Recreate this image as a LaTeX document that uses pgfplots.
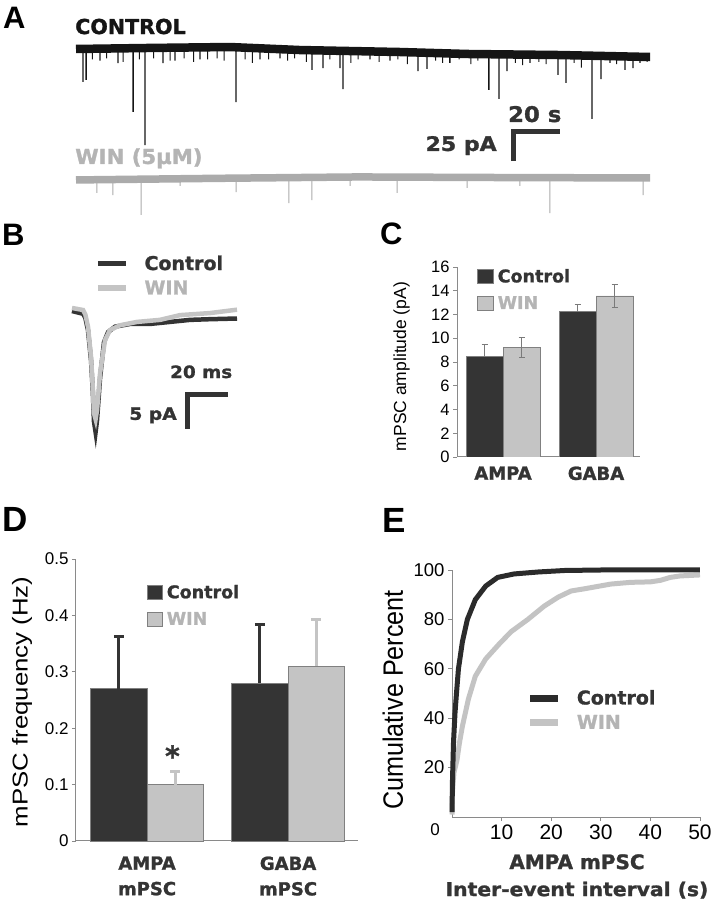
\documentclass[border=0pt]{standalone}
\usepackage{fontspec}
\setmainfont{Liberation Sans}
\newfontfamily\dv{DejaVu Sans}[BoldFeatures={FakeBold=1.3}]
\usepackage{graphicx}
\usepackage{pgfplots}
\pgfplotsset{compat=1.18}
\definecolor{dk}{HTML}{343434}
\definecolor{lt}{HTML}{C4C4C4}
\definecolor{ctr}{HTML}{151515}
\definecolor{wtr}{HTML}{ABABAB}
\definecolor{wtxt}{HTML}{B4B4B4}
\definecolor{axg}{HTML}{8A8A8A}
\definecolor{sb}{HTML}{333333}
\definecolor{barout}{HTML}{808080}
\definecolor{errg}{HTML}{7A7A7A}
\definecolor{ccur}{HTML}{2B2B2B}
\definecolor{wcur}{HTML}{C3C3C3}
\begin{document}
\begin{tikzpicture}
\useasboundingbox (0,0) rectangle (716pt,900pt);

% ---------------- Panel A ----------------
\begin{axis}[at={(76pt,677pt)}, anchor=south west, scale only axis,
  width=574.1pt, height=185.6pt, xmin=0, xmax=244.3, ymin=-150, ymax=10,
  axis lines=none, clip=false]
\addplot[ctr, line width=8.5pt] coordinates {(0,0)(31.5,0.9)(65.5,1.7)(95.3,-0.9)(137.9,-2.6)(166.4,-4.3)(205.9,-5.2)(244.3,-6.9)};
\addplot[ctr, line width=1.3pt] coordinates {
(3.0,0.1)(3.0,-28.4)(3.0,0.1)
(4.3,0.1)(4.3,-26.7)(4.3,0.1)
(10.2,0.3)(10.2,-10)(10.2,0.3)
(17.9,0.5)(17.9,-12.1)(17.9,0.5)
(24.3,0.7)(24.3,-54.3)(24.3,0.7)
(29.4,0.8)(29.4,-82.8)(29.4,0.8)
(37.0,1.0)(37.0,-12.1)(37.0,1.0)
(42.1,1.1)(42.1,-10)(42.1,1.1)
(52.8,1.4)(52.8,-9)(52.8,1.4)
(68.1,1.5)(68.1,-45.7)(68.1,1.5)
(78.3,0.6)(78.3,-9)(78.3,0.6)
(86.8,-0.1)(86.8,-8)(86.8,-0.1)
(100.4,-1.1)(100.4,-18.1)(100.4,-1.1)
(105.1,-1.3)(105.1,-16.4)(105.1,-1.3)
(112.3,-1.6)(112.3,-16.4)(112.3,-1.6)
(113.6,-1.7)(113.6,-34.5)(113.6,-1.7)
(125.1,-2.1)(125.1,-9)(125.1,-2.1)
(133.6,-2.4)(133.6,-10)(133.6,-2.4)
(145.5,-3.1)(145.5,-19)(145.5,-3.1)
(149.4,-3.3)(149.4,-17.2)(149.4,-3.3)
(159.1,-3.9)(159.1,-12)(159.1,-3.9)
(175.7,-4.5)(175.7,-35.3)(175.7,-4.5)
(180.0,-4.6)(180.0,-43.1)(180.0,-4.6)
(183.4,-4.7)(183.4,-19)(183.4,-4.7)
(193.2,-4.9)(193.2,-12)(193.2,-4.9)
(205.1,-5.2)(205.1,-22.4)(205.1,-5.2)
(208.5,-5.3)(208.5,-29.3)(208.5,-5.3)
(219.6,-5.8)(219.6,-60.3)(219.6,-5.8)
(223.4,-6.0)(223.4,-25.9)(223.4,-6.0)
(227.2,-6.2)(227.2,-12)(227.2,-6.2)
(233.6,-6.4)(233.6,-18.1)(233.6,-6.4)
(237.0,-6.6)(237.0,-16.4)(237.0,-6.6)
(240.0,-6.7)(240.0,-12)(240.0,-6.7)};
\addplot[ctr, line width=1pt] coordinates {
(7,0.2)(7,-9)(7,0.2)
(13,0.4)(13,-8)(13,0.4)
(20,0.6)(20,-11)(20,0.6)
(27,0.8)(27,-9)(27,0.8)
(33,0.9)(33,-8)(33,0.9)
(40,1.1)(40,-10)(40,1.1)
(46,1.2)(46,-8)(46,1.2)
(50,1.3)(50,-11)(50,1.3)
(56,1.5)(56,-9)(56,1.5)
(60,1.6)(60,-8)(60,1.6)
(63,1.6)(63,-10)(63,1.6)
(72,1.2)(72,-9)(72,1.2)
(75,0.9)(75,-12)(75,0.9)
(82,0.3)(82,-9)(82,0.3)
(90,-0.4)(90,-10)(90,-0.4)
(93,-0.7)(93,-8)(93,-0.7)
(98,-1.0)(98,-11)(98,-1.0)
(108,-1.4)(108,-9)(108,-1.4)
(117,-1.8)(117,-12)(117,-1.8)
(120,-1.9)(120,-9)(120,-1.9)
(129,-2.2)(129,-11)(129,-2.2)
(137,-2.6)(137,-9)(137,-2.6)
(141,-2.8)(141,-13)(141,-2.8)
(153,-3.5)(153,-10)(153,-3.5)
(156,-3.7)(156,-12)(156,-3.7)
(163,-4.1)(163,-9)(163,-4.1)
(168,-4.3)(168,-13)(168,-4.3)
(171,-4.4)(171,-10)(171,-4.4)
(187,-4.8)(187,-12)(187,-4.8)
(190,-4.8)(190,-14)(190,-4.8)
(197,-5.0)(197,-11)(197,-5.0)
(200,-5.1)(200,-13)(200,-5.1)
(212,-5.5)(212,-12)(212,-5.5)
(215,-5.6)(215,-16)(215,-5.6)
(230,-6.3)(230,-13)(230,-6.3)
(243,-6.8)(243,-11)(243,-6.8)};
\addplot[wtr, line width=7.5pt] coordinates {(0,-112.9)(60,-111.5)(120,-110.3)(180,-110.8)(244.3,-111.2)};
\addplot[wtr, line width=1pt] coordinates {
(8.9,-112.5)(8.9,-124.1)(8.9,-112.5)
(15.7,-112.3)(15.7,-125.9)(15.7,-112.3)
(27.7,-112)(27.7,-143.1)(27.7,-112)
(44.3,-111.7)(44.3,-118)(44.3,-111.7)
(68.1,-111.2)(68.1,-123.3)(68.1,-111.2)
(90.6,-110.8)(90.6,-132.8)(90.6,-110.8)
(100.4,-110.6)(100.4,-130.2)(100.4,-110.6)
(116.6,-110.4)(116.6,-118)(116.6,-110.4)
(136.6,-110.4)(136.6,-124.1)(136.6,-110.4)
(166.4,-110.6)(166.4,-119.8)(166.4,-110.6)
(188.9,-110.8)(188.9,-118)(188.9,-110.8)
(201.7,-110.9)(201.7,-141.4)(201.7,-110.9)
(241.3,-111.2)(241.3,-125.9)(241.3,-111.2)};
\addplot[sb, line width=5pt, line join=miter] coordinates {(186,-96.6)(186,-71.1)(206,-71.1)};
\node[anchor=base west, inner sep=0pt, font=\dv\bfseries\fontsize{20.6}{20.6}\selectfont, text=ctr, xscale=1.0] at (axis cs:-0.4,12.9) {CONTROL};
\node[anchor=base west, inner sep=0pt, font=\dv\bfseries\fontsize{20.6}{20.6}\selectfont, text=wtxt, xscale=1.03] at (axis cs:-0.4,-99.1) {WIN (5μM)};
\node[anchor=base west, inner sep=0pt, font=\dv\bfseries\fontsize{21.5}{21.5}\selectfont, text=sb, xscale=1.06] at (axis cs:183.8,-62.9) {20 s};
\node[anchor=base east, inner sep=0pt, font=\dv\bfseries\fontsize{20}{20}\selectfont, text=sb, xscale=1.1] at (axis cs:179.1,-87.9) {25 pA};
\end{axis}

% ---------------- Panel B ----------------
\begin{axis}[at={(72pt,455pt)}, anchor=south west, scale only axis,
  width=168.1pt, height=149.6pt, xmin=0, xmax=82, ymin=-20, ymax=2,
  axis lines=none, clip=false,
  legend style={draw=none, fill=none, at={(0.137,1.266)}, anchor=north west, inner sep=0pt, outer sep=0pt,
    font=\dv\bfseries\fontsize{19}{19}\selectfont, row sep=9pt, column sep=16pt, nodes={inner sep=0pt}},
  legend cell align=left,
  legend image code/.code={\draw[#1, line width=5.5pt] (0pt,0pt) -- (28pt,0pt);}]
\addplot[dk, line width=4.5pt] coordinates {(0,-0.3)(5.4,-0.7)(6.5,-1.3)(7.8,-3.1)(9.3,-7.6)(10.2,-12.4)(10.7,-16.5)(11.5,-18.1)(12.2,-16.4)(13.7,-10.1)(15.6,-4.9)(17.6,-3.4)(21,-2.6)(28.3,-2.2)(38,-2.2)(47.8,-1.9)(57.6,-1.6)(67.3,-1.5)(80.5,-1.4)};
\addlegendentry{\textcolor{dk}{Control}}
\addplot[lt, line width=4.5pt] coordinates {(0,0.15)(5.4,-0.15)(6.5,-0.8)(7.8,-2.6)(9.3,-7.1)(10.2,-11.9)(10.7,-15.3)(11.5,-16.2)(12.2,-14.9)(13.7,-9.4)(16.1,-4.6)(18.5,-3.1)(23.4,-2.4)(31.7,-1.9)(42.9,-1.6)(52.7,-0.9)(67.3,-0.6)(80.5,-0.1)};
\addlegendentry{\textcolor{wtxt}{WIN}}
\addplot[sb, line width=5pt, line join=miter, forget plot] coordinates {(56.3,-17.6)(56.3,-12.6)(76.3,-12.6)};
\node[anchor=base west, inner sep=0pt, font=\dv\bfseries\fontsize{17}{17}\selectfont, text=sb, xscale=1.08] at (axis cs:47.8,-10.15) {20 ms};
\node[anchor=base east, inner sep=0pt, font=\dv\bfseries\fontsize{17}{17}\selectfont, text=sb, xscale=1.1] at (axis cs:51.2,-16.3) {5 pA};
\end{axis}

% ---------------- Panel C ----------------
\begin{axis}[at={(457pt,443pt)}, anchor=south west, scale only axis,
  width=183pt, height=190pt, xmin=0.505, xmax=2.473, ymin=0, ymax=16,
  axis lines=left, axis line style={-, draw=axg, line width=1pt},
  ybar, bar width=37pt,
  xtick={1,2}, xticklabels={AMPA,GABA}, xtick style={draw=none},
  ytick={0,2,4,6,8,10,12,14,16}, ytick style={draw=axg, line width=0.8pt},
  tick align=outside, major tick length=4pt,
  /pgf/number format/assume math mode=true,
  yticklabel style={font=\fontsize{16.5}{16.5}\selectfont},
  xticklabel style={font=\dv\bfseries\fontsize{18}{18}\selectfont, text=dk, yshift=-2pt},
  ylabel={mPSC amplitude (pA)},
  every axis y label/.style={at={(axis description cs:-0.303,0.476)}, rotate=90, anchor=center, font=\fontsize{17.5}{17.5}\selectfont},
  legend style={draw=none, fill=none, at={(0.109,0.989)}, anchor=north west, inner sep=0pt, outer sep=0pt,
    font=\dv\bfseries\fontsize{17.5}{17.5}\selectfont, row sep=12pt, column sep=4pt, nodes={inner sep=0pt}},
  legend cell align=left,
  legend image code/.code={\draw[#1] (0pt,-7pt) rectangle (16pt,7pt);}]
\addplot[fill=dk, draw=barout, line width=0.8pt, bar shift=-18.5pt,
  error bars/.cd, y dir=plus, y explicit,
  error bar style={color=errg, line width=0.8pt},
  error mark options={rotate=90, mark size=3pt, color=errg, line width=0.8pt}]
  coordinates {(1,8.45) +- (0,1.05) (2,12.24) +- (0,0.58)};
\addlegendentry{\textcolor{dk}{Control}}
\addplot[fill=lt, draw=barout, line width=0.8pt, bar shift=18.5pt,
  error bars/.cd, y dir=both, y explicit,
  error bar style={color=errg, line width=0.8pt},
  error mark options={rotate=90, mark size=3pt, color=errg, line width=0.8pt}]
  coordinates {(1,9.24) +- (0,0.85) (2,13.56) +- (0,0.95)};
\addlegendentry{\textcolor{wtxt}{WIN}}
\end{axis}

% ---------------- Panel D ----------------
\begin{axis}[at={(76pt,59pt)}, anchor=south west, scale only axis,
  width=282pt, height=282pt, xmin=0.496, xmax=2.496, ymin=0, ymax=0.5,
  axis lines=left, axis line style={-, draw=axg, line width=1pt},
  ybar, bar width=56.5pt,
  xtick={1,2}, xticklabels={{AMPA\\mPSC},{GABA\\mPSC}}, xtick style={draw=none},
  ytick={0,0.1,0.2,0.3,0.4,0.5}, yticklabels={0,0.1,0.2,0.3,0.4,0.5},
  ytick style={draw=axg, line width=0.8pt},
  tick align=outside, major tick length=4pt,
  /pgf/number format/assume math mode=true,
  yticklabel style={font=\fontsize{17}{17}\selectfont},
  xticklabel style={font=\dv\bfseries\fontsize{18}{25.5}\selectfont, text=dk, align=center, yshift=-8pt},
  ylabel={\scalebox{1.2}[1]{mPSC frequency (Hz)}},
  every axis y label/.style={at={(axis description cs:-0.191,0.493)}, rotate=90, anchor=center, font=\fontsize{21.5}{21.5}\selectfont},
  legend style={draw=none, fill=none, at={(0.252,0.908)}, anchor=north west, inner sep=0pt, outer sep=0pt,
    font=\dv\bfseries\fontsize{17.5}{17.5}\selectfont, row sep=12pt, column sep=4pt, nodes={inner sep=0pt}},
  legend cell align=left,
  legend image code/.code={\draw[#1] (0pt,-7pt) rectangle (15pt,7pt);},
  clip=false]
\addplot[fill=dk, draw=barout, line width=0.8pt, bar shift=-28.25pt,
  error bars/.cd, y dir=plus, y explicit,
  error bar style={color=dk, line width=3pt},
  error mark options={rotate=90, mark size=5pt, color=dk, line width=3pt}]
  coordinates {(1,0.27) +- (0,0.092) (2,0.28) +- (0,0.104)};
\addlegendentry{\textcolor{dk}{Control}}
\addplot[fill=lt, draw=barout, line width=0.8pt, bar shift=28.25pt,
  error bars/.cd, y dir=plus, y explicit,
  error bar style={color=lt, line width=3pt},
  error mark options={rotate=90, mark size=5pt, color=lt, line width=3pt}]
  coordinates {(1,0.10) +- (0,0.024) (2,0.31) +- (0,0.082)};
\addlegendentry{\textcolor{wtxt}{WIN}}
\node[anchor=north, inner sep=0pt, font=\dv\bfseries\fontsize{28}{28}\selectfont, text=dk] at (axis cs:1.18,0.170) {*};
\end{axis}

% ---------------- Panel E ----------------
\begin{axis}[at={(452pt,83pt)}, anchor=south west, scale only axis,
  width=248pt, height=247pt, xmin=0, xmax=50, ymin=0, ymax=100,
  axis lines=left, axis line style={-, draw=axg, line width=1pt},
  xtick={10,20,30,40,50}, ytick={20,40,60,80,100},
  tick style={draw=axg, line width=0.8pt},
  tick align=outside, major tick length=4pt,
  /pgf/number format/assume math mode=true,
  xticklabel style={font=\fontsize{21}{21}\selectfont},
  yticklabel style={font=\fontsize{18.5}{18.5}\selectfont},
  extra x ticks={0},
  extra x tick style={major tick length=0pt, xticklabel style={xshift=-17pt, yshift=-3pt, font=\fontsize{17}{17}\selectfont}},
  ylabel={\scalebox{0.9}[1]{Cumulative Percent}},
  every axis y label/.style={at={(axis description cs:-0.238,0.474)}, rotate=90, anchor=center, font=\fontsize{28}{28}\selectfont},
  xlabel={{\fontsize{20}{27}\selectfont AMPA mPSC}\\{\fontsize{19}{27}\selectfont\scalebox{1.07}[1]{Inter-event interval (s)}}},
  every axis x label/.style={at={(axis description cs:0.504,-0.150)}, anchor=north, align=center, inner sep=0pt, font=\dv\bfseries\fontsize{20}{27}\selectfont, text=dk},
  legend style={draw=none, fill=none, at={(0.302,0.514)}, anchor=north west, inner sep=0pt, outer sep=0pt,
    font=\dv\bfseries\fontsize{19}{19}\selectfont, row sep=9pt, column sep=15pt, nodes={inner sep=0pt}},
  legend cell align=left, reverse legend,
  legend image code/.code={\draw[#1, line width=7pt] (0pt,0pt) -- (28pt,0pt);},
  clip=false]
\addplot[wcur, line width=5pt] coordinates {(0,1)(0.1,10)(0.4,18)(1.0,23)(1.5,30)(2.1,36.8)(3.3,47.7)(4.7,57)(6.8,64)(9.5,70)(11.9,75)(15.3,80)(18.6,85.4)(21.4,89)(24,91.5)(27,92.5)(32,94.3)(36,95)(40,95.2)(42,95.8)(44,97)(46,97.6)(50,98)};
\addlegendentry{\textcolor{wtxt}{WIN}}
\addplot[ccur, line width=5pt] coordinates {(0,2)(0.1,15)(0.3,30)(0.6,42)(0.9,50)(1.3,60)(2.1,71)(3.1,80)(4.7,88)(6.8,93.5)(9.2,97)(12.5,98.4)(17.4,99.2)(22.7,99.8)(30,100)(50,100)};
\addlegendentry{\textcolor{dk}{Control}}
\end{axis}

% ---------------- Panel letters ----------------
\node[anchor=base west, inner sep=0pt, font=\bfseries\fontsize{31}{31}\selectfont] at (3pt,871pt) {A};
\node[anchor=base west, inner sep=0pt, font=\bfseries\fontsize{31}{31}\selectfont] at (2pt,654pt) {B};
\node[anchor=base west, inner sep=0pt, font=\bfseries\fontsize{31}{31}\selectfont] at (380pt,655pt) {C};
\node[anchor=base west, inner sep=0pt, font=\bfseries\fontsize{35}{35}\selectfont] at (2pt,368pt) {D};
\node[anchor=base west, inner sep=0pt, font=\bfseries\fontsize{35}{35}\selectfont] at (382pt,367pt) {E};
\end{tikzpicture}
\end{document}
